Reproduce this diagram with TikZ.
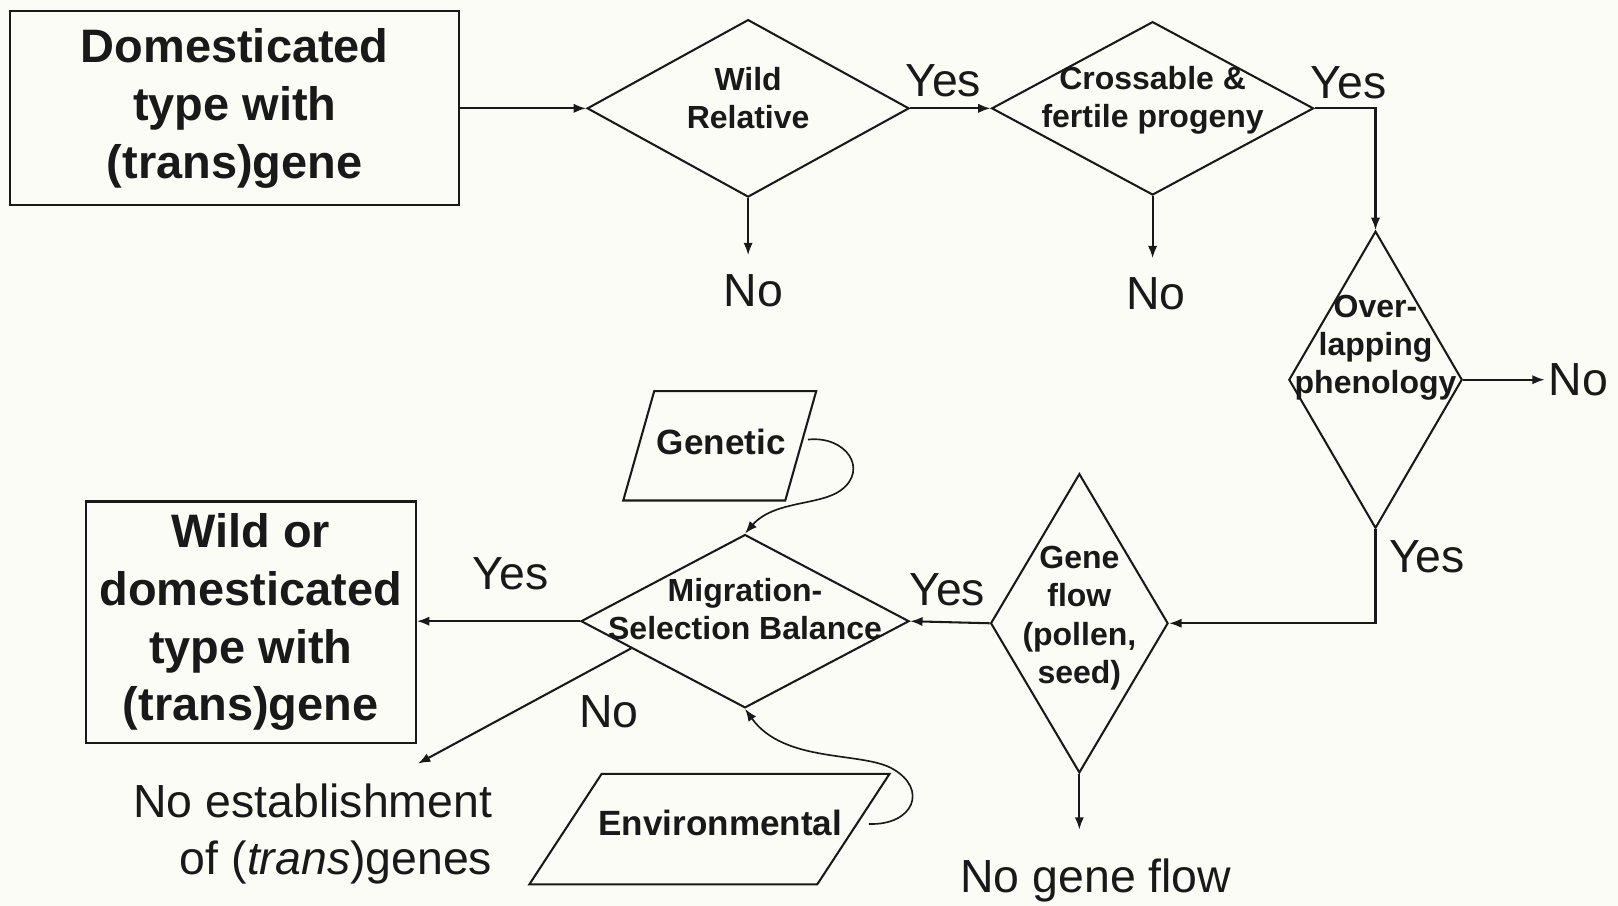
\documentclass[tikz,border=0pt]{standalone}
\usepackage{fontspec}
\setmainfont{Liberation Sans}
\usetikzlibrary{shapes.geometric,arrows.meta,calc}
\definecolor{bgc}{RGB}{252,252,247}
\definecolor{ink}{RGB}{25,25,25}
\begin{document}
\begin{tikzpicture}[x=1pt,y=-1pt,
  line width=2pt, draw=ink, text=ink,
  arr/.style={draw=ink, -{Latex[length=12pt,width=9pt]}},
  box/.style={draw=ink, rectangle, inner sep=0pt, font=\fontsize{45.5}{56}\selectfont\bfseries, align=center},
  dia/.style={draw=ink, diamond, inner sep=0pt},
  dtext/.style={font=\fontsize{31}{37}\selectfont\bfseries, align=center, inner sep=0pt, text=ink},
  ptext/.style={font=\fontsize{34}{40}\selectfont\bfseries, inner sep=0pt, text=ink},
  para/.style={rectangle, inner sep=0pt},
  lab/.style={font=\fontsize{45}{55}\selectfont, inner sep=0pt, align=center, text=ink}
]
\useasboundingbox[fill=bgc] (0,0) rectangle (1568,878);

% boxes
\node[box, minimum width=435pt, minimum height=188pt] (b1) at (227.5,105) {Domesticated\\type with\\(trans)gene};
\node[box, minimum width=320pt, minimum height=234pt] (b2) at (243,603) {Wild or\\domesticated\\type with\\(trans)gene};

% diamonds
\node[dia, minimum width=312pt, minimum height=172pt,
  label={[dtext, yshift=10pt]center:{Wild\\Relative}}] (d1) at (725,105) {};
\node[dia, minimum width=312pt, minimum height=168pt,
  label={[dtext, yshift=8pt]center:{Crossable \&\\fertile progeny}}] (d2) at (1117,105) {};
\node[dia, minimum width=168pt, minimum height=288pt,
  label={[dtext, yshift=31pt]center:{Over-\\lapping\\phenology}}] (d3) at (1333,368) {};
\node[dia, minimum width=172pt, minimum height=290pt,
  label={[dtext, yshift=5pt]center:{Gene\\flow\\(pollen,\\seed)}}] (d4) at (1046,604) {};
\node[dia, minimum width=318pt, minimum height=168pt,
  label={[dtext, yshift=12pt]center:{Migration-\\Selection Balance}}] (d5) at (722,602) {};

% parallelograms (bounding node + slanted outline)
\node[para, minimum width=185pt, minimum height=104pt,
  label={[ptext, xshift=1.5pt, yshift=4pt]center:Genetic}] (gen) at (697.5,432) {};
\draw ([xshift=30pt]gen.north west) -- (gen.north east) -- ([xshift=-30pt]gen.south east) -- (gen.south west) -- cycle;
\node[para, minimum width=347pt, minimum height=105pt,
  label={[ptext, xshift=10.5pt, yshift=5.5pt]center:Environmental}] (env) at (687.5,803.5) {};
\draw ([xshift=70pt]env.north west) -- (env.north east) -- ([xshift=-70pt]env.south east) -- (env.south west) -- cycle;

% labels
\node[lab] (y1) at (914,78) {Yes};
\node[lab] (y2) at (1307,80) {Yes};
\node[lab] (n1) at (730,282) {No};
\node[lab] (n2) at (1120,285) {No};
\node[lab, anchor=west] (n3) at (1500,368) {No};
\node[lab] (y3) at (1383,540) {Yes};
\node[lab] (y4) at (918,572) {Yes};
\node[lab] (ngf) at (1062,853) {No gene flow};
\node[lab] (y5) at (495,556) {Yes};
\node[lab] (n5) at (590,690) {No};
\node[lab, align=right, anchor=north east] (nest) at (478,759) {No establishment\\of (\textit{trans})genes};
\coordinate (nestc) at (405,740);
\coordinate (gs) at ([xshift=-8pt,yshift=6pt]gen.east);
\coordinate (es) at ([xshift=-20pt,yshift=5pt]env.east);

% connectors
\draw[arr] (b1.east) -- (d1.west);
\draw[arr] (d1.east) -- (d2.west);
\draw[arr] (d2.east) -| (d3.north);
\draw[arr, shorten >=18pt] (d1.south) -- (d1.south |- n1.north);
\draw[arr, shorten >=18pt] (d2.south) -- (d2.south |- n2.north);
\draw[arr, shorten >=3pt] (d3.east) -- (n3.west);
\draw[arr] (d3.south) |- (d4.east);
\draw[arr] (d4.west) -- (d5.east);
\draw[arr, shorten >=27pt] (d4.south) -- (d4.south |- ngf.north);
\draw[arr] (d5.west) -- (b2.east |- d5.west);
\draw[arr] ($(d5.west)!0.31!(d5.south)$) -- (nestc);
\draw[arr, line width=1.6pt] (gs)
  .. controls (820,422) and (842,455) .. (815,475)
  .. controls (795,490) and (750,485) .. (d5.north);
\draw[arr, line width=1.6pt] (es)
  .. controls (885,800) and (900,765) .. (865,745)
  .. controls (835,728) and (760,740) .. (d5.south);
\end{tikzpicture}
\end{document}
